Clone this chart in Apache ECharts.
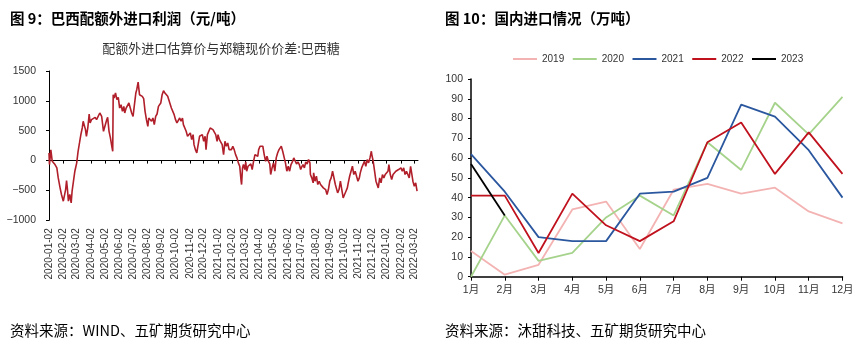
<!DOCTYPE html>
<html><head><meta charset="utf-8">
<script src="https://cdn.jsdelivr.net/npm/echarts@6/dist/echarts.min.js"></script>
<style>html,body{margin:0;padding:0;background:#fff}#c{width:860px;height:345px}</style>
</head><body><div id="c"></div>
<script>
// ---- Left chart: 配额外进口估算价与郑糖现价价差:巴西糖 (day offsets from 2020-01-02) ----
const profitDays = [
  0,1,4,7,10,13,17,20,24,27,
  31,33,36,38,40,42,45,48,50,53,
  56,60,63,66,69,72,74,76,79,81,
  84,87,89,92,96,100,103,107,110,114,
  118,121,125,127,130,133,136,138,139,141,
  144,147,150,153,156,159,162,164,167,170,
  173,176,179,182,185,188,190,193,196,199,
  202,205,208,211,214,216,219,222,225,228,
  231,234,237,239,242,245,248,251,254,257,
  260,265,268,271,274,277,280,283,286,289,
  291,294,297,300,303,306,309,312,314,317,
  320,323,326,329,332,335,338,340,343,346,
  349,352,355,358,361,364,366,369,372,375,
  378,381,384,387,390,392,395,398,401,404,
  407,410,413,416,417,419,421,424,426,428,
  431,434,437,440,443,446,449,452,454,457,
  460,463,466,469,472,475,478,480,483,486,
  489,492,495,498,501,503,506,509,512,515,
  518,521,524,527,530,533,536,539,542,545,
  547,550,553,556,559,562,565,566,569,572,
  573,576,579,582,585,588,591,594,597,599,
  602,605,608,611,614,617,620,622,625,628,
  631,634,637,640,643,646,648,651,654,657,
  660,663,666,669,672,674,677,680,683,686,
  689,692,695,698,699,702,705,708,711,713,
  716,719,722,725,728,731,734,736,739,742,
  745,748,751,754,757,760,762,765,768,771,
  774,777,780,783,785,788,791,794,797
];
const profitValues = [
  128,-67,178,-11,17,-67,-123,-290,-457,-568,
  -680,-708,-485,-334,-485,-680,-568,-708,-513,-345,
  -178,-39,156,295,435,546,658,602,518,407,
  546,780,630,685,713,724,685,658,797,741,
  490,490,685,724,490,379,240,156,1103,1048,
  1131,1020,1059,880,936,825,908,797,880,853,
  964,880,797,741,936,1131,1187,1315,1103,1131,
  1076,1037,825,685,574,713,741,658,713,602,
  741,780,908,936,964,1103,1170,1131,1131,1076,
  1048,880,853,769,685,630,602,713,658,713,
  602,630,490,407,379,463,351,435,267,184,
  128,267,407,379,435,323,407,184,435,463,
  546,574,518,490,435,323,435,351,323,267,
  100,323,240,295,184,212,184,240,184,100,
  45,-39,-95,-345,-401,-123,-67,-150,-22,-178,
  -95,-123,-56,-150,-11,100,128,72,184,240,
  267,240,100,-11,72,-11,-56,-234,-123,-39,
  -178,45,128,184,156,240,156,184,-39,-178,
  -95,-178,-67,-22,45,17,-56,-22,-67,-150,
  -111,-67,-123,-22,-56,17,-39,-234,-290,-373,
  -206,-345,-262,-401,-345,-401,-373,-457,-429,-485,
  -568,-485,-345,-290,-178,-206,-401,-457,-540,-485,
  -345,-485,-624,-568,-513,-457,-373,-262,-178,-95,
  -234,-178,-262,-345,-290,-206,-123,-150,-11,-95,
  17,-39,45,156,100,-11,-178,-345,-345,-457,
  -290,-373,-234,-290,-234,-206,-178,-67,-234,-318,
  -234,-206,-178,-206,-150,-178,-123,-178,-123,-234,
  -178,-234,-290,-95,-67,-345,-429,-373,-513
];
const profitTickDays = [0,31,60,91,121,152,182,213,244,274,305,335,366,397,425,456,486,517,547,578,609,639,670,700,731,762,790];
const profitTickLabels = ['2020-01-02','2020-02-02','2020-03-02','2020-04-02','2020-05-02','2020-06-02','2020-07-02','2020-08-02','2020-09-02','2020-10-02','2020-11-02','2020-12-02','2021-01-02','2021-02-02','2021-03-02','2021-04-02','2021-05-02','2021-06-02','2021-07-02','2021-08-02','2021-09-02','2021-10-02','2021-11-02','2021-12-02','2022-01-02','2022-02-02','2022-03-02'];

// ---- Right chart: 国内进口情况（万吨） ----
const months = ['1月','2月','3月','4月','5月','6月','7月','8月','9月','10月','11月','12月'];
const imp2019 = [13,1,6,34,38,14,44,47,42,45,33,27];
const imp2020 = [0,31,8,12,30,41,31,68,54,88,72,91];
const imp2021 = [62,43,20,18,18,42,43,50,87,81,64,40];
const imp2022 = [41,41,12,42,26,18,28,68,78,52,73,52];
const imp2023 = [57,31];

const NUM_FONT = '"Liberation Sans", Arial, "Noto Sans CJK SC", sans-serif';
const CJK_FONT = '"Noto Sans CJK SC", "Liberation Sans", sans-serif';

const chart = echarts.init(document.getElementById('c'), null, {renderer: 'canvas'});
const axisBlack = {color: '#000', width: 1};

const option = {
  animation: false,
  backgroundColor: '#fff',
  title: [
    {text: '图 9：巴西配额外进口利润（元/吨）', left: 5, top: 6,
     textStyle: {fontFamily: CJK_FONT, fontSize: 14.5, fontWeight: 'bold', color: '#000'}},
    {text: '图 10：国内进口情况（万吨）', left: 440, top: 6,
     textStyle: {fontFamily: CJK_FONT, fontSize: 14.5, fontWeight: 'bold', color: '#000'}},
    {text: '配额外进口估算价与郑糖现价价差:巴西糖', left: 216, top: 37, textAlign: 'center',
     textStyle: {fontFamily: CJK_FONT, fontSize: 13, fontWeight: 'normal', color: '#333'}},
    {text: '资料来源：WIND、五矿期货研究中心', left: 5, top: 318,
     textStyle: {fontFamily: CJK_FONT, fontSize: 14.5, fontWeight: 'normal', color: '#000'}},
    {text: '资料来源：沐甜科技、五矿期货研究中心', left: 440, top: 318,
     textStyle: {fontFamily: CJK_FONT, fontSize: 14.5, fontWeight: 'normal', color: '#000'}}
  ],
  legend: {
    left: 508, top: 49, itemWidth: 24, itemHeight: 2, itemGap: 8.5, icon: 'rect',
    textStyle: {fontFamily: NUM_FONT, fontSize: 10, color: '#333'},
    data: ['2019','2020','2021','2022','2023']
  },
  grid: [
    {left: 49, top: 71, width: 369, height: 149.3},
    {left: 471, top: 79, width: 371.5, height: 197.7}
  ],
  xAxis: [
    {
      gridIndex: 0, type: 'value', min: 0, max: 799,
      axisLine: {show: true, onZero: true, lineStyle: axisBlack},
      axisTick: {show: true, customValues: profitTickDays, length: 3, lineStyle: axisBlack},
      axisLabel: {
        customValues: profitTickDays, rotate: 90, margin: 8, fontSize: 10,
        fontFamily: NUM_FONT, color: '#333',
        formatter: v => profitTickLabels[profitTickDays.indexOf(v)] || ''
      },
      splitLine: {show: false}
    },
    {
      gridIndex: 1, type: 'category', data: months, boundaryGap: false,
      axisLine: {show: true, lineStyle: {color: '#000', width: 1.5}},
      axisTick: {show: true, length: 4, lineStyle: {color: '#000', width: 1}},
      axisLabel: {fontSize: 10.5, fontFamily: NUM_FONT, color: '#333', margin: 8, interval: 0},
      splitLine: {show: false}
    }
  ],
  yAxis: [
    {
      gridIndex: 0, type: 'value', min: -1000, max: 1500, interval: 500,
      axisLine: {show: true, lineStyle: axisBlack},
      axisTick: {show: true, length: 3, lineStyle: axisBlack},
      axisLabel: {fontSize: 10.5, fontFamily: NUM_FONT, color: '#333', margin: 13,
        formatter: v => v < 0 ? '\u2212' + Math.abs(v) : String(v)},
      splitLine: {show: false}
    },
    {
      gridIndex: 1, type: 'value', min: 0, max: 100, interval: 10,
      axisLine: {show: true, lineStyle: {color: '#000', width: 1.5}},
      axisTick: {show: true, length: 3, lineStyle: {color: '#000', width: 1}},
      axisLabel: {fontSize: 10.5, fontFamily: NUM_FONT, color: '#333', margin: 8},
      splitLine: {show: false}
    }
  ],
  series: [
    {
      name: '价差', type: 'line', xAxisIndex: 0, yAxisIndex: 0, symbol: 'none',
      data: profitDays.map((d, i) => [d, profitValues[i]]),
      lineStyle: {color: '#B01F2A', width: 1.6}, itemStyle: {color: '#B01F2A'}
    },
    {name: '2019', type: 'line', xAxisIndex: 1, yAxisIndex: 1, symbol: 'none', data: imp2019,
     lineStyle: {color: '#F4B3B3', width: 1.8}, itemStyle: {color: '#F4B3B3'}},
    {name: '2020', type: 'line', xAxisIndex: 1, yAxisIndex: 1, symbol: 'none', data: imp2020,
     lineStyle: {color: '#A6D38C', width: 1.8}, itemStyle: {color: '#A6D38C'}},
    {name: '2021', type: 'line', xAxisIndex: 1, yAxisIndex: 1, symbol: 'none', data: imp2021,
     lineStyle: {color: '#2B579F', width: 1.8}, itemStyle: {color: '#2B579F'}},
    {name: '2022', type: 'line', xAxisIndex: 1, yAxisIndex: 1, symbol: 'none', data: imp2022,
     lineStyle: {color: '#C0121E', width: 1.8}, itemStyle: {color: '#C0121E'}},
    {name: '2023', type: 'line', xAxisIndex: 1, yAxisIndex: 1, symbol: 'none', data: imp2023,
     lineStyle: {color: '#000000', width: 1.8}, itemStyle: {color: '#000000'}}
  ]
};
chart.setOption(option);
</script>
</body></html>
